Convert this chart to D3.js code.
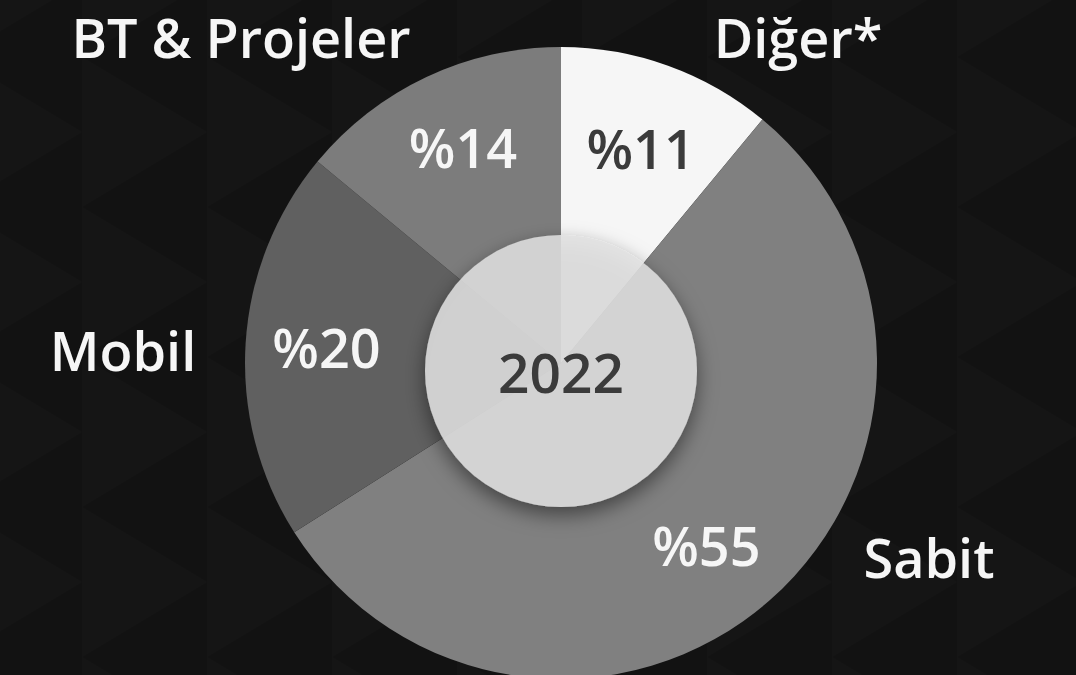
<!DOCTYPE html>
<html>
<head>
<meta charset="utf-8">
<script src="https://cdn.jsdelivr.net/npm/d3@7"></script>
<style>
  html, body { margin: 0; padding: 0; background: #131313; }
  svg { display: block; }
  text { font-family: "Open Sans", "Noto Sans", sans-serif; font-weight: 600; }
</style>
</head>
<body>
<svg id="chart"></svg>
<script>
// Veriler
const categories = ["Diğer*", "Sabit", "Mobil", "BT & Projeler"];
const shares = [11, 55, 20, 14];
const shareLabels = ["%11", "%55", "%20", "%14"];
const sliceColors = ["#f6f6f6", "#808080", "#606060", "#7c7c7c"];
const shareTextColors = ["#3b3b3b", "#f6f6f6", "#f6f6f6", "#f6f6f6"];
const yearLabel = "2022";

// Boyutlar
const width = 1076;
const height = 675;
const cx = 561, cy = 363;
const radius = 316;
const innerR = 136;
const labelR = 235;

// Kategori adlarının yerleri (elle yerleştirilmiş)
const namePos = {
    "Diğer*": [798, 58],
    "Sabit": [929, 578],
    "Mobil": [123, 371],
    "BT & Projeler": [241, 58]
};

// Yüzde etiketleri için küçük kaydırmalar
const shareNudge = {
    "Diğer*": [0, 8],
    "Sabit": [-10, 7],
    "Mobil": [0, 0],
    "BT & Projeler": [2, -2]
};

const svg = d3.select("#chart")
    .attr("width", width)
    .attr("height", height);

const defs = svg.append("defs");

// Arka plan deseni (üçgenler)
const pat = defs.append("pattern")
    .attr("id", "bg")
    .attr("patternUnits", "userSpaceOnUse")
    .attr("width", 125)
    .attr("height", 150)
    .attr("x", 82)
    .attr("y", 57);
pat.append("rect").attr("width", 125).attr("height", 150).attr("fill", "#121212");
pat.append("polygon").attr("points", "0,0 125,75 0,150").attr("fill", "#151515");

svg.append("rect")
    .attr("width", width)
    .attr("height", height)
    .attr("fill", "url(#bg)");

// Gölge filtresi
const shadow = defs.append("filter")
    .attr("id", "shadow")
    .attr("x", "-30%").attr("y", "-30%")
    .attr("width", "160%").attr("height", "160%");
shadow.append("feDropShadow")
    .attr("dx", 0).attr("dy", 8)
    .attr("stdDeviation", 10)
    .attr("flood-color", "#000")
    .attr("flood-opacity", 0.55);

const data = categories.map((c, i) => ({
    name: c, value: shares[i], label: shareLabels[i],
    color: sliceColors[i], textColor: shareTextColors[i]
}));

const pie = d3.pie().sort(null).value(d => d.value);
const arcs = pie(data);

const arc = d3.arc().innerRadius(0).outerRadius(radius);
const labelArc = d3.arc().innerRadius(labelR).outerRadius(labelR);

const g = svg.append("g").attr("transform", `translate(${cx},${cy})`);

// Dilimler
g.selectAll("path.slice")
    .data(arcs)
    .enter()
    .append("path")
    .attr("class", "slice")
    .attr("d", arc)
    .attr("fill", d => d.data.color);

// Orta daire
svg.append("circle")
    .attr("cx", cx)
    .attr("cy", cy + 8)
    .attr("r", innerR)
    .attr("fill", "#e1e1e1")
    .attr("fill-opacity", 0.86)
    .attr("filter", "url(#shadow)");

// Yüzde etiketleri
g.selectAll("text.share")
    .data(arcs)
    .enter()
    .append("text")
    .attr("class", "share")
    .attr("x", d => labelArc.centroid(d)[0] + shareNudge[d.data.name][0])
    .attr("y", d => labelArc.centroid(d)[1] + shareNudge[d.data.name][1])
    .attr("dy", "0.36em")
    .attr("text-anchor", "middle")
    .attr("font-size", 54)
    .attr("fill", d => d.data.textColor)
    .text(d => d.data.label);

// Yıl
svg.append("text")
    .attr("x", cx)
    .attr("y", 393)
    .attr("text-anchor", "middle")
    .attr("font-size", 55)
    .attr("fill", "#3b3b3b")
    .text(yearLabel);

// Kategori adları
svg.selectAll("text.name")
    .data(data)
    .enter()
    .append("text")
    .attr("class", "name")
    .attr("x", d => namePos[d.name][0])
    .attr("y", d => namePos[d.name][1])
    .attr("text-anchor", "middle")
    .attr("font-size", 54)
    .attr("fill", "#f6f6f6")
    .text(d => d.name);
</script>
</body>
</html>
